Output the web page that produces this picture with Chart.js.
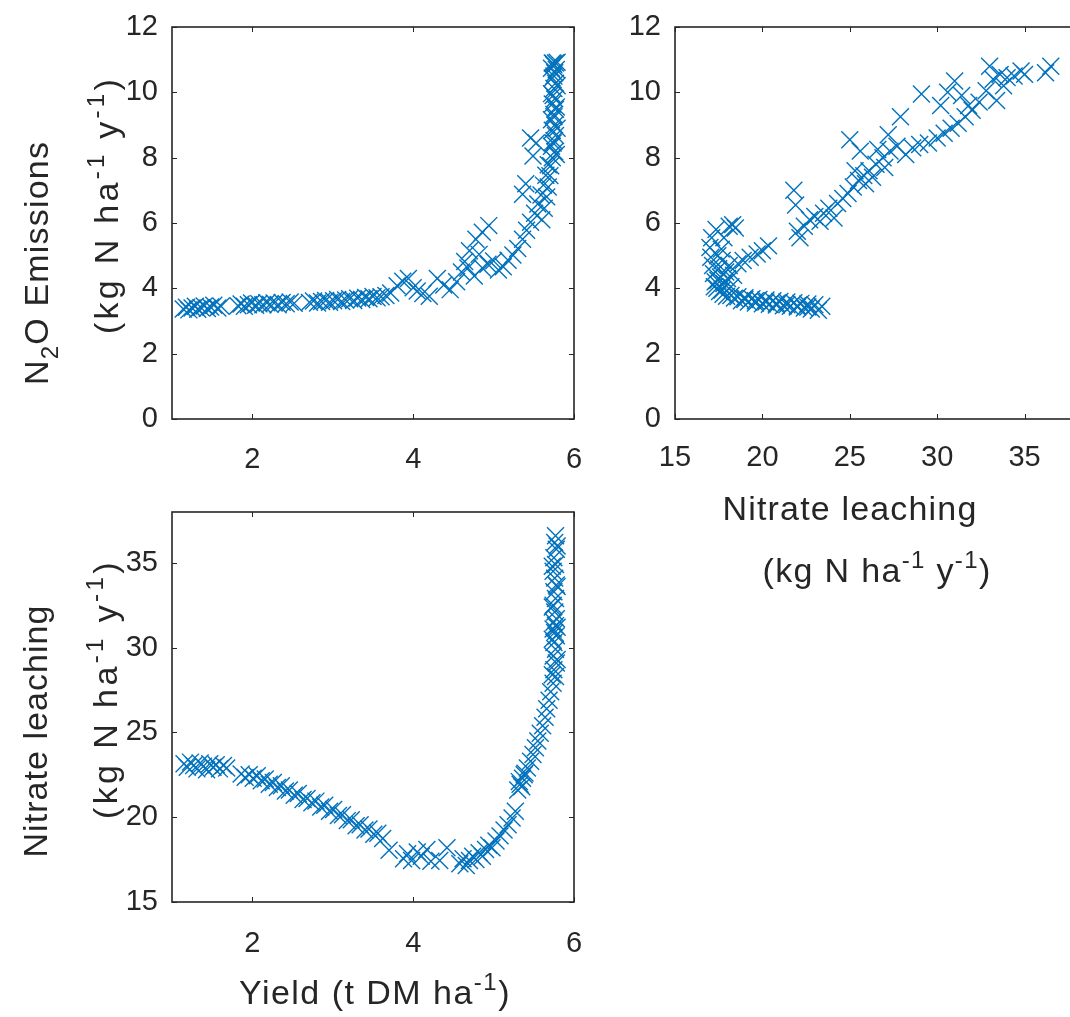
<!DOCTYPE html>
<html>
<head>
<meta charset="utf-8">
<script src="https://cdn.jsdelivr.net/npm/chart.js@4.4.0/dist/chart.umd.min.js"></script>
<style>
  html, body { margin: 0; padding: 0; background: #fff; overflow: hidden; }
  #fig { position: relative; width: 1070px; height: 1017px; overflow: hidden; background: #fff; }
  #fig canvas { position: absolute; }
</style>
</head>
<body>
<div id="fig">
  <canvas id="emis" width="600" height="490" style="left:0;top:0"></canvas>
  <canvas id="cross" width="500" height="600" style="left:600px;top:0"></canvas>
  <canvas id="leach" width="600" height="527" style="left:0;top:490px"></canvas>
</div>
<script>
// yield (t DM/ha) against N2O emissions (kg N/ha/y)
const emisYield = [
  1.14, 1.18, 1.21, 1.25, 1.29, 1.32, 1.36, 1.40, 1.44, 1.48, 1.52, 1.57, 1.61,
  1.82, 1.86, 1.90, 1.95, 1.99, 2.04, 2.08, 2.13, 2.18, 2.22, 2.27, 2.32, 2.37, 2.42, 2.47, 2.52,
  2.71, 2.76, 2.81, 2.86, 2.91, 2.96, 3.01, 3.06, 3.11, 3.16, 3.21, 3.26, 3.31, 3.36, 3.41, 3.45,
  3.50, 3.55, 3.60, 3.66,
  3.72, 3.80, 3.87, 3.94, 4.00, 4.05, 4.12, 4.20, 4.30, 4.38, 4.46, 4.54, 4.60, 4.64, 4.70, 4.78,
  4.86, 4.94, 4.82, 4.68, 4.76, 4.86, 4.93, 5.00, 5.06, 5.12, 5.18, 5.24, 5.30, 5.36, 5.41, 5.46,
  5.51, 5.55, 5.59, 5.62, 5.65, 5.68, 5.36, 5.40, 5.49, 5.53, 5.46,
  5.60, 5.63, 5.66, 5.68, 5.70, 5.71,
  5.73, 5.76, 5.72, 5.75, 5.77, 5.73, 5.76, 5.72, 5.75, 5.77, 5.73, 5.76, 5.72, 5.75, 5.77, 5.73,
  5.76, 5.72, 5.75, 5.77, 5.73,
  5.78, 5.74, 5.79, 5.75, 5.78, 5.74, 5.79, 5.75, 5.78, 5.74, 5.79
];
const emisN2O = [
  3.37, 3.42, 3.34, 3.40, 3.45, 3.36, 3.41, 3.46, 3.38, 3.43, 3.48, 3.40, 3.45,
  3.47, 3.52, 3.45, 3.50, 3.55, 3.48, 3.53, 3.50, 3.56, 3.51, 3.55, 3.50, 3.57, 3.53, 3.58, 3.54,
  3.57, 3.61, 3.55, 3.60, 3.63, 3.57, 3.62, 3.66, 3.60, 3.64, 3.68, 3.63, 3.70, 3.66, 3.72, 3.68,
  3.75, 3.71, 3.74, 3.78,
  3.86, 4.08, 4.22, 4.30, 4.02, 3.92, 3.84, 3.76, 4.30, 4.10, 3.96, 4.20, 4.50, 4.82, 5.15, 5.50,
  5.72, 5.92, 5.04, 4.62, 4.38, 4.62, 4.74, 4.84, 4.56, 4.66, 4.86, 5.02, 5.22, 5.50, 5.78, 6.02,
  6.30, 6.58, 6.86, 7.16, 7.46, 7.78, 6.88, 7.20, 8.05, 8.45, 8.60,
  6.10, 6.45, 6.80, 7.10, 7.45, 7.75,
  8.00, 8.18, 8.35, 8.52, 8.68, 8.84, 9.00, 9.16, 9.32, 9.48, 9.64, 9.80, 9.96, 10.12, 10.28, 10.44,
  10.60, 10.74, 10.84, 10.90, 10.90,
  8.10, 8.45, 8.90, 9.25, 9.55, 9.90, 10.20, 10.50, 10.70, 10.88, 10.92
];

// nitrate leaching (kg N/ha/y) against N2O emissions
const crossLeach = [
  17.10, 17.00, 17.05, 17.15, 17.20, 17.30, 17.40, 17.55, 17.75, 17.95,
  17.50, 17.60, 17.70, 17.80, 17.90, 18.00, 18.10, 18.20, 18.35, 17.45, 17.65,
  17.35, 17.80, 18.10, 18.30, 18.45,
  18.60, 18.90, 19.30, 19.70, 20.00, 20.35,
  18.20, 18.60, 19.00, 19.40, 19.80, 20.20, 20.60, 21.00, 21.40, 21.80, 22.20, 22.60, 23.00,
  18.80, 19.20, 19.60, 20.00, 20.40, 20.80, 21.20, 21.60, 22.00, 22.40, 22.80, 23.20, 23.40,
  21.80, 21.90, 22.00, 22.15, 22.40, 22.70, 23.00, 23.30, 23.50, 23.80, 24.10, 24.30, 24.60, 24.90,
  25.20, 25.50, 25.80, 26.10, 26.50, 26.90, 27.30, 27.70, 28.20, 28.60, 29.00, 29.50, 30.00, 30.40,
  30.80, 31.20, 31.60, 32.00, 32.40, 32.80, 33.20, 33.60, 34.00, 34.40, 34.80, 36.20, 36.50,
  25.00, 25.60, 27.20, 27.90, 29.10, 30.20, 30.60, 31.00, 31.40, 31.80, 33.00, 33.40, 33.80, 35.00,
  25.30, 25.90, 26.30, 26.60, 27.00,
  17.25, 17.45, 17.70, 18.40, 19.00, 19.60, 20.20, 20.80, 21.40, 22.00, 22.60
];
const crossN2O = [
  5.55, 5.25, 4.95, 4.70, 4.45, 4.20, 4.00, 3.90, 3.82, 3.76,
  4.60, 4.35, 4.85, 4.15, 4.50, 4.30, 4.70, 4.05, 4.40, 5.00, 5.20,
  5.80, 5.55, 5.90, 5.95, 5.85,
  4.75, 4.85, 4.95, 5.05, 5.15, 5.30,
  3.78, 3.74, 3.71, 3.68, 3.66, 3.64, 3.62, 3.60, 3.58, 3.56, 3.54, 3.52, 3.50,
  3.62, 3.58, 3.55, 3.53, 3.51, 3.49, 3.47, 3.45, 3.43, 3.40, 3.37, 3.33, 3.45,
  7.00, 6.55, 5.75, 5.55, 5.90, 6.10, 6.20, 6.05, 6.30, 6.45, 6.15, 6.60, 6.75, 6.90,
  7.10, 7.30, 7.45, 7.60, 7.80, 8.00, 8.20, 8.35, 8.10, 8.30, 8.40, 8.45, 8.60, 8.75,
  8.90, 9.05, 9.25, 9.45, 9.70, 10.05, 10.40, 10.55, 10.45, 10.50, 10.65, 10.60, 10.80,
  8.55, 8.20, 8.70, 9.25, 9.95, 9.60, 10.00, 10.35, 9.90, 9.60, 10.80, 9.75, 10.20, 10.55,
  7.60, 7.20, 7.40, 8.25, 7.70,
  4.05, 4.25, 3.95, 3.70, 3.66, 3.62, 3.58, 3.54, 3.50, 3.47, 3.43
];

// yield (t DM/ha) against nitrate leaching
const leachYield = [
  1.15, 1.19, 1.23, 1.27, 1.31, 1.35, 1.39, 1.43, 1.47, 1.51, 1.55, 1.59, 1.64, 1.68,
  1.86, 1.91, 1.96, 2.01, 2.06, 2.11, 2.16, 2.21, 2.26, 2.31, 2.36, 2.41, 2.46, 2.52, 2.57,
  2.63, 2.68, 2.74, 2.79, 2.85, 2.90, 2.96, 3.01, 3.07, 3.12, 3.18, 3.23, 3.29, 3.34, 3.40,
  3.45, 3.51, 3.56, 3.62, 3.70,
  3.88, 3.93, 3.98, 4.05, 4.10, 4.17, 4.22, 4.33, 4.42,
  4.58, 4.62, 4.66, 4.70, 4.74, 4.78, 4.82, 4.86, 4.90, 4.94, 4.98, 5.03, 5.08, 5.13, 5.18,
  5.23, 5.27,
  5.30, 5.33, 5.36, 5.39, 5.42, 5.46, 5.49, 5.52, 5.55, 5.58, 5.61, 5.64, 5.66, 5.69, 5.71,
  5.32, 5.35, 5.38,
  5.74, 5.77, 5.75, 5.78, 5.74, 5.77, 5.75, 5.78, 5.76, 5.74, 5.77, 5.75, 5.78, 5.76, 5.74,
  5.77, 5.75, 5.78, 5.76, 5.74, 5.77, 5.75, 5.78, 5.76, 5.77,
  5.79, 5.73, 5.79, 5.73, 5.79, 5.73, 5.79, 5.73
];
const leachValues = [
  23.15, 22.95, 23.25, 23.05, 22.85, 23.20, 23.00, 22.80, 23.15, 22.95, 23.10, 22.85, 23.05, 22.90,
  22.55, 22.35, 22.50, 22.30, 22.45, 22.15, 22.25, 21.95, 22.05, 21.75, 21.85, 21.55, 21.60, 21.30,
  21.40, 21.05, 21.10, 20.85, 20.95, 20.60, 20.70, 20.35, 20.45, 20.10, 20.15, 19.80, 19.85, 19.50,
  19.55, 19.25, 19.30, 19.00, 19.05, 18.75, 18.05,
  17.55, 17.85, 17.45, 17.95, 17.70, 18.10, 17.40, 17.45, 18.20,
  17.25, 17.55, 17.15, 17.45, 17.70, 17.50, 17.90, 17.70, 18.10, 18.35, 18.20, 18.60, 18.90, 19.25,
  19.55, 19.95, 20.35,
  21.60, 21.95, 22.30, 22.60, 22.90, 23.30, 23.70, 24.10, 24.50, 24.95, 25.40, 25.90, 26.40, 26.90,
  27.40,
  22.10, 21.80, 22.50,
  27.90, 28.30, 28.70, 29.10, 29.50, 29.90, 30.30, 30.70, 30.90, 31.10, 31.30, 31.50, 31.70, 32.10,
  32.50, 32.90, 33.30, 33.70, 34.10, 34.50, 34.90, 35.30, 35.80, 36.20, 36.60,
  29.30, 30.50, 31.20, 32.40, 33.60, 34.80, 36.00, 28.40
];

// axis limits and tick labels
const yieldTicks = [2, 4, 6];
const n2oTicks = [0, 2, 4, 6, 8, 10, 12];
const leachXTicks = [15, 20, 25, 30, 35];
const leachYTicks = [15, 20, 25, 30, 35];

const BLUE = '#0072BD';
const INK = '#262626';
const FONT = '"Liberation Sans", Arial, Helvetica, sans-serif';
const TITLE_SIZE = 34;

// axis box with inward tick marks on all four sides
const boxPlugin = {
  id: 'axisBox',
  afterDatasetsDraw(chart) {
    const { ctx, chartArea: a, scales } = chart;
    ctx.save();
    ctx.strokeStyle = INK;
    ctx.lineWidth = 1.6;
    ctx.strokeRect(a.left, a.top, a.right - a.left, a.bottom - a.top);
    ctx.lineWidth = 1;
    ctx.beginPath();
    scales.x.ticks.forEach(t => {
      const px = Math.round(scales.x.getPixelForValue(t.value)) + 0.5;
      ctx.moveTo(px, a.bottom); ctx.lineTo(px, a.bottom - 5);
      ctx.moveTo(px, a.top); ctx.lineTo(px, a.top + 5);
    });
    scales.y.ticks.forEach(t => {
      const py = Math.round(scales.y.getPixelForValue(t.value)) + 0.5;
      ctx.moveTo(a.left, py); ctx.lineTo(a.left + 5, py);
      ctx.moveTo(a.right, py); ctx.lineTo(a.right - 5, py);
    });
    ctx.stroke();
    ctx.restore();
  }
};

// axis titles with sub/superscripts, fitted to a given length
function drawRich(ctx, line) {
  const size = TITLE_SIZE;
  const small = Math.round(size * 0.7);
  ctx.save();
  ctx.letterSpacing = '0px';
  let w = 0, n = 0;
  const segs = line.parts.map(([t, k]) => {
    ctx.font = (k ? small : size) + 'px ' + FONT;
    const sw = ctx.measureText(t).width;
    w += sw; n += t.length;
    return { t, k };
  });
  const gap = line.len ? Math.max(0, (line.len - w) / n) : 0;
  ctx.letterSpacing = gap.toFixed(2) + 'px';
  ctx.translate(line.x, line.y);
  if (line.rot) ctx.rotate(-Math.PI / 2);
  ctx.fillStyle = INK;
  ctx.textAlign = 'left';
  ctx.textBaseline = 'alphabetic';
  let x = -(w + gap * n) / 2;
  const base = size * 0.358;
  segs.forEach(s => {
    ctx.font = (s.k ? small : size) + 'px ' + FONT;
    const dy = s.k === 'sup' ? -size * 0.42 : s.k === 'sub' ? size * 0.28 : 0;
    ctx.fillText(s.t, x, base + dy);
    x += ctx.measureText(s.t).width;
  });
  ctx.restore();
}

const titlePlugin = {
  id: 'richTitles',
  afterDraw(chart, args, opts) {
    (opts.lines || []).forEach(l => drawRich(chart.ctx, l));
  }
};

const unitParts = [['(kg N ha', ''], ['-1', 'sup'], [' y', ''], ['-1', 'sup'], [')', '']];

function makeScatter(id, xs, ys, cfg) {
  const points = xs.map((x, i) => ({ x: x, y: ys[i] }));
  const tickFont = { family: FONT, size: 29 };
  return new Chart(document.getElementById(id), {
    type: 'scatter',
    data: {
      datasets: [{
        data: points,
        pointStyle: 'crossRot',
        pointRadius: 12,
        pointHoverRadius: 12,
        borderWidth: 1.4,
        borderColor: BLUE,
        backgroundColor: BLUE
      }]
    },
    options: {
      responsive: false,
      animation: false,
      events: [],
      layout: { padding: cfg.pad },
      plugins: {
        legend: { display: false },
        tooltip: { enabled: false },
        richTitles: { lines: cfg.titles }
      },
      scales: {
        x: {
          type: 'linear',
          min: cfg.xMin, max: cfg.xMax,
          grid: { display: false, drawTicks: false },
          border: { display: false },
          ticks: { color: INK, font: tickFont, padding: cfg.xPad, maxRotation: 0, callback: v => String(v) },
          afterBuildTicks: s => { s.ticks = cfg.xTicks.map(v => ({ value: v })); },
          // fixed axis band; end labels may overhang into the layout padding
          afterFit: s => { s.height = cfg.xH; s.paddingLeft = 0; s.paddingRight = 0; }
        },
        y: {
          type: 'linear',
          min: cfg.yMin, max: cfg.yMax,
          grid: { display: false, drawTicks: false },
          border: { display: false },
          ticks: { color: INK, font: tickFont, padding: 14, callback: v => String(v) },
          afterBuildTicks: s => { s.ticks = cfg.yTicks.map(v => ({ value: v })); },
          afterFit: s => { s.width = cfg.yW; s.paddingTop = 0; s.paddingBottom = 0; }
        }
      }
    },
    plugins: [boxPlugin, titlePlugin]
  });
}

makeScatter('emis', emisYield, emisN2O, {
  xMin: 1, xMax: 6, yMin: 0, yMax: 12,
  xTicks: yieldTicks, yTicks: n2oTicks,
  pad: { top: 27, right: 26, left: 0, bottom: 0 }, yW: 172, xH: 71, xPad: 24,
  titles: [
    { parts: [['N', ''], ['2', 'sub'], ['O Emissions', '']], x: 36, y: 263, rot: true, len: 244 },
    { parts: unitParts, x: 106, y: 205, rot: true, len: 258 }
  ]
});

makeScatter('cross', crossLeach, crossN2O, {
  xMin: 15, xMax: 38, yMin: 0, yMax: 12,
  xTicks: leachXTicks, yTicks: n2oTicks,
  pad: { top: 27, right: 23, left: 0, bottom: 0 }, yW: 75, xH: 181, xPad: 22,
  titles: [
    { parts: [['Nitrate leaching', '']], x: 250, y: 508, len: 255 },
    { parts: unitParts, x: 277, y: 570, len: 229 }
  ]
});

makeScatter('leach', leachYield, leachValues, {
  xMin: 1, xMax: 6, yMin: 15, yMax: 38,
  xTicks: yieldTicks, yTicks: leachYTicks,
  pad: { top: 22, right: 26, left: 0, bottom: 0 }, yW: 172, xH: 115, xPad: 25,
  titles: [
    { parts: [['Nitrate leaching', '']], x: 35, y: 241, rot: true, len: 253 },
    { parts: unitParts, x: 105, y: 199, rot: true, len: 260 },
    { parts: [['Yield (t DM ha', ''], ['-1', 'sup'], [')', '']], x: 375, y: 502, len: 272 }
  ]
});
</script>
</body>
</html>
